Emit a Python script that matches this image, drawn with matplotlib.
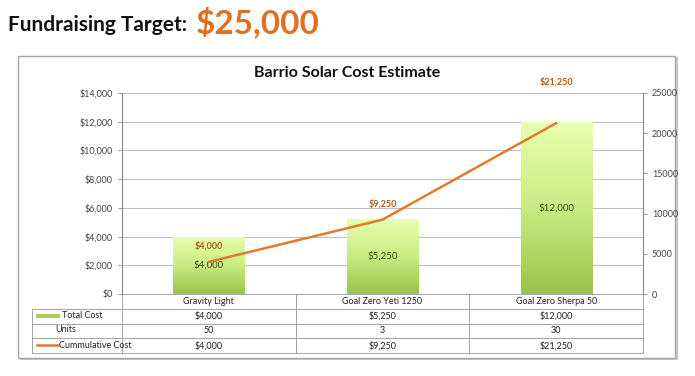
import numpy as np
import matplotlib.pyplot as plt
from matplotlib.patches import Rectangle
from matplotlib.lines import Line2D
from matplotlib.colors import LinearSegmentedColormap

categories = ["Gravity Light", "Goal Zero Yeti 1250", "Goal Zero Sherpa 50"]
total_cost = [4000, 5250, 12000]
units = [50, 3, 30]
cumulative = [4000, 9250, 21250]
row_names = ["Total Cost", "Units", "Cummulative Cost"]

plt.rcParams['font.family'] = ['Lato', 'DejaVu Sans']

fig = plt.figure(figsize=(6.95, 3.76), dpi=100)
W, H = 695, 376

def fx(px):
    return px / W

def fy(py):
    return 1 - py / H

# header
fig.text(fx(8), fy(25), "Fundraising Target:", fontsize=15, fontweight='bold',
         color='#111111', va='center', ha='left')
fig.text(fx(196), fy(22), "$25,000", fontsize=24, fontweight='bold',
         color='#E07020', va='center', ha='left')

# chart frame with shadow
fig.patches.append(Rectangle((fx(20), fy(360)), fx(658), 303 / H, transform=fig.transFigure,
                             facecolor='#C8C8C8', edgecolor='none', zorder=-3))
fig.patches.append(Rectangle((fx(18), fy(358)), fx(657), 302 / H, transform=fig.transFigure,
                             facecolor='white', edgecolor='#A6A6A6', lw=1, zorder=-2))

fig.text(0.5, fy(73), "Barrio Solar Cost Estimate", fontsize=11.5, fontweight='bold',
         ha='center', va='center', color='#111111')

ax = fig.add_axes([fx(122), fy(294), fx(521), 201 / H])
ax.set_facecolor('none')
x = np.arange(len(categories))
ax.set_yticks(range(0, 14001, 2000))
ax.set_yticklabels([f"${v:,}" for v in range(0, 14001, 2000)])
ax.yaxis.grid(True, color='#BFBFBF', lw=0.8)
ax.set_axisbelow(True)
ax.set_xticks([])
ax.tick_params(axis='y', labelsize=6.5, colors='#444444', length=3, width=0.6, color='#888888')
for s in ['top', 'bottom']:
    ax.spines[s].set_visible(False)
ax.spines['left'].set_color('#888888')
ax.spines['right'].set_visible(False)

# gradient bars
bars = ax.bar(x, total_cost, width=0.41, color='none', edgecolor='none', zorder=2)
grad = np.linspace(0, 1, 256).reshape(-1, 1)
cmap = LinearSegmentedColormap.from_list('g', ['#9CC24A', '#C9EC82', '#E9FFAE'])
for b in bars:
    x0, y0, w, h = b.get_x(), b.get_y(), b.get_width(), b.get_height()
    im = ax.imshow(grad, cmap=cmap, extent=(x0, x0 + w, y0, y0 + h), origin='lower',
                   aspect='auto', zorder=2)
    im.set_clip_path(b)
ax.set_xlim(-0.5, len(categories) - 0.5)
ax.set_ylim(0, 14000)
for xi, v in zip(x, total_cost):
    ax.text(xi, v / 2, f"${v:,}", ha='center', va='center', fontsize=7, color='#3C5018', zorder=5)

ax2 = ax.twinx()
ax2.set_ylim(0, 25000)
ax2.set_yticks(range(0, 25001, 5000))
ax2.tick_params(axis='y', labelsize=6.5, colors='#444444', length=3, width=0.6, color='#888888')
for s in ['top', 'bottom', 'left']:
    ax2.spines[s].set_visible(False)
ax2.spines['right'].set_color('#888888')
ax2.plot(x, cumulative, color='#E07B30', lw=1.8, zorder=4)
label_offsets = [8, 8, 26]
for xi, v, off in zip(x, cumulative, label_offsets):
    ax2.annotate(f"${v:,}", (xi, v), xytext=(0, off), textcoords='offset points',
                 ha='center', va='bottom', fontsize=6.5, fontweight='bold', color='#A85A20')

# data table
first_w = 90 / 521
cell_text = [[""] + categories]
cell_text.append([""] + [f"${v:,}" for v in total_cost])
cell_text.append([""] + [str(v) for v in units])
cell_text.append([""] + [f"${v:,}" for v in cumulative])
tbl = ax.table(cellText=cell_text, cellLoc='center',
               colWidths=[first_w, 1 / 3, 1 / 3, 1 / 3],
               bbox=[-first_w, -59 / 201, 1 + first_w, 59 / 201])
tbl.auto_set_font_size(False)
tbl.set_fontsize(6.5)
for (r, c), cell in tbl.get_celld().items():
    cell.set_edgecolor('#A6A6A6')
    cell.set_linewidth(0.7)
    cell.set_facecolor('none')
    cell.get_text().set_color('#222222')
    if r == 0 and c == 0:
        cell.visible_edges = ''
    elif r == 0:
        cell.visible_edges = 'TLR'

# row labels with legend keys
row_y = [fy(316), fy(330), fy(345)]
fig.text(fx(62), row_y[0], row_names[0], fontsize=6.5, va='center', ha='left', color='#222222')
fig.text(fx(55), row_y[1], row_names[1], fontsize=6.5, va='center', ha='left', color='#222222')
fig.text(fx(59), row_y[2], row_names[2], fontsize=6.5, va='center', ha='left', color='#222222')
fig.patches.append(Rectangle((fx(36), row_y[0] - 2 / H), fx(24), 4 / H, transform=fig.transFigure,
                             facecolor='#A9CF5A', edgecolor='none'))
fig.lines.append(Line2D([fx(37), fx(58)], [row_y[2], row_y[2]], transform=fig.transFigure,
                        color='#E07B30', lw=1.8))

fig.savefig("out.png", dpi=100)
